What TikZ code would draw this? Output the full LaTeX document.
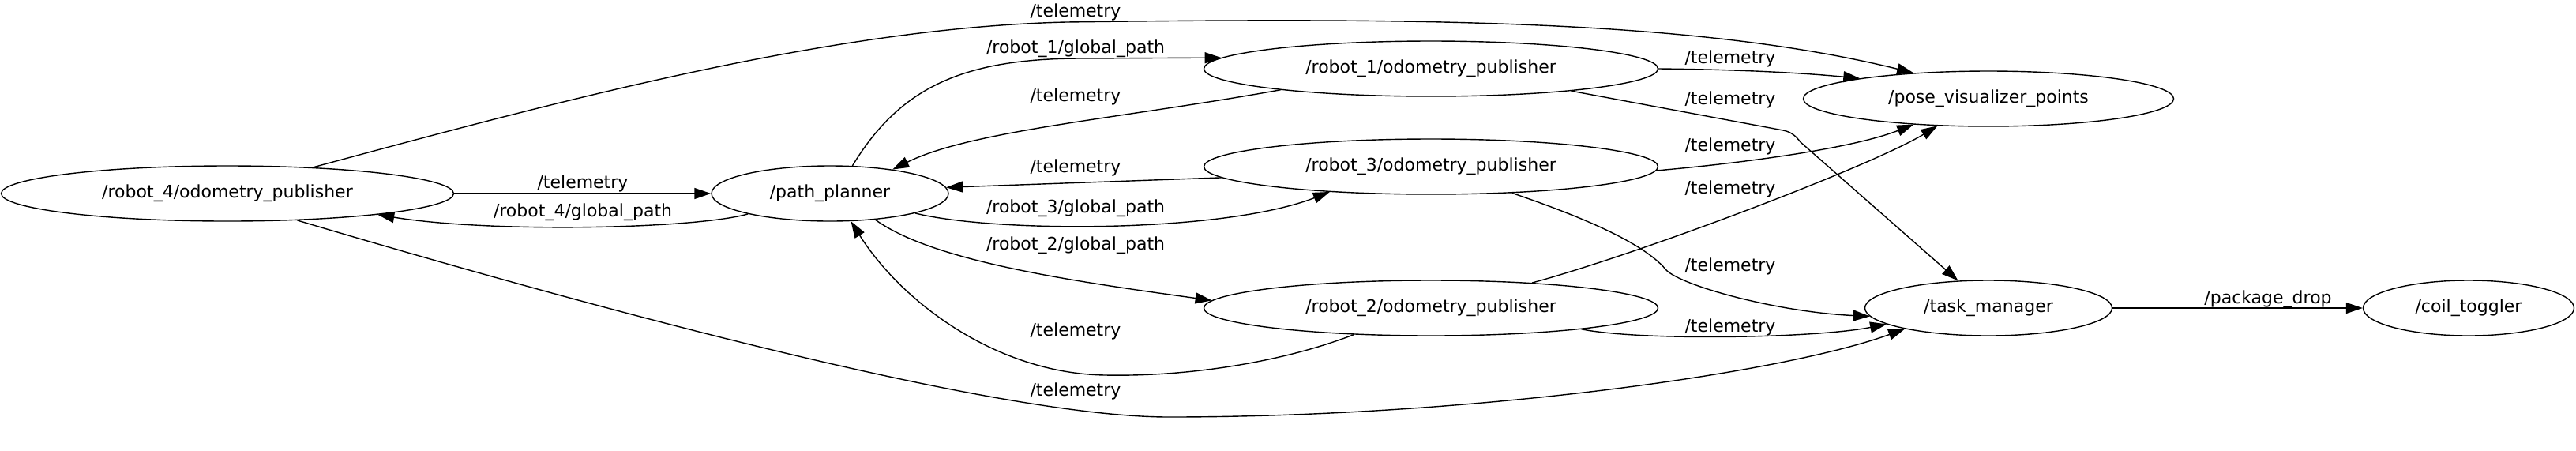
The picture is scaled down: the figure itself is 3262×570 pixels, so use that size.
\documentclass[tikz,border=0pt]{standalone}
\usepackage{fontspec}
\setmainfont{DejaVu Sans}
\usetikzlibrary{arrows.meta,shapes.geometric}

\begin{document}
\begin{tikzpicture}[x=0.5pt,y=-0.5pt,
		every node/.style={font=\fontsize{11}{13}\selectfont},
		rosnode/.style={ellipse,draw,line width=0.7pt,inner sep=0pt,minimum height=35pt},
		topic/.style={inner sep=0pt},
		pub/.style={line width=0.7pt,-{Triangle[length=10.5pt,width=7pt]}}]
		\useasboundingbox (0,0) rectangle (3262,570);
		% ros nodes
		\node[rosnode,minimum width=286.5pt] (r4) at (288,245) {/robot\_4/odometry\_publisher};
		\node[rosnode,minimum width=150pt] (pp) at (1051,245) {/path\_planner};
		\node[rosnode,minimum width=287.5pt] (r1) at (1812,87) {/robot\_1/odometry\_publisher};
		\node[rosnode,minimum width=287.5pt] (r3) at (1812,211) {/robot\_3/odometry\_publisher};
		\node[rosnode,minimum width=287.5pt] (r2) at (1812,390) {/robot\_2/odometry\_publisher};
		\node[rosnode,minimum width=234.5pt] (pose) at (2518,125) {/pose\_visualizer\_points};
		\node[rosnode,minimum width=156.5pt] (tm) at (2518,390) {/task\_manager};
		\node[rosnode,minimum width=133.5pt] (coil) at (3126,390) {/coil\_toggler};
		% topics between robot_4 and the planner
		\draw[pub] (r4) -- (pp);
		\draw[pub] (pp.194) .. controls (880,290) and (620,295) .. (r4.352);
		\node[topic] (t9) at (738,232) {/telemetry};
		\node[topic] (g4) at (738,269) {/robot\_4/global\_path};
		% planner and the other robots
		\draw[pub] (pp.51) .. controls (1140,110) and (1220,74) .. (1370,74) -- (r1.177);
		\draw[pub] (r1.188) .. controls (1420,150) and (1230,165) .. (pp.21);
		\draw[pub] (r3.183) -- (pp.3);
		\draw[pub] (pp.347) .. controls (1260,295) and (1550,295) .. (r3.194);
		\draw[pub] (pp.330) .. controls (1180,330) and (1350,355) .. (r2.178);
		\draw[pub] (r2.199) .. controls (1620,460) and (1500,477) .. (1400,475) .. controls (1260,473) and (1140,380) .. (pp.307);
		\node[topic] (g1) at (1362,62) {/robot\_1/global\_path};
		\node[topic] (t3) at (1362,122) {/telemetry};
		\node[topic] (t4) at (1362,212) {/telemetry};
		\node[topic] (g3) at (1362,264) {/robot\_3/global\_path};
		\node[topic] (g2) at (1362,311) {/robot\_2/global\_path};
		\node[topic] (t7) at (1362,419) {/telemetry};
		% long ones from robot_4
		\draw[pub] (r4.17) .. controls (700,130) and (1050,35) .. (1350,28) .. controls (1800,22) and (2150,25) .. (pose.161);
		\draw[pub] (r4.339) .. controls (700,375) and (1250,528) .. (1480,528) .. controls (1850,528) and (2250,475) .. (tm.194);
		\node[topic] (t1) at (1362,15) {/telemetry};
		\node[topic] (t8) at (1362,495) {/telemetry};
		% robots to visualizer and task manager
		\draw[pub] (r1.east) .. controls (2200,88) and (2280,92) .. (pose.171);
		\draw[pub] (r1.351) -- (2258,165) .. controls (2268,167) and (2274,172) .. (2280,180) -- (tm.138);
		\draw[pub] (r3.359) .. controls (2190,208) and (2340,190) .. (pose.199);
		\draw[pub] (r2.14) .. controls (2080,320) and (2370,210) .. (pose.208);
		\draw[pub] (r3.342) .. controls (1990,270) and (2080,305) .. (2110,342) .. controls (2130,362) and (2250,395) .. (tm.184);
		\draw[pub] (r2.352) .. controls (2080,432) and (2300,428) .. (tm.189);
		\node[topic] (t11) at (2191,74) {/telemetry};
		\node[topic] (t12) at (2191,126) {/telemetry};
		\node[topic] (t13) at (2191,185) {/telemetry};
		\node[topic] (t14) at (2191,239) {/telemetry};
		\node[topic] (t15) at (2191,337) {/telemetry};
		\node[topic] (t16) at (2191,414) {/telemetry};
		% drop
		\draw[pub] (tm) -- (coil);
		\node[topic] (drop) at (2872,379) {/package\_drop};
	\end{tikzpicture}
\end{document}
